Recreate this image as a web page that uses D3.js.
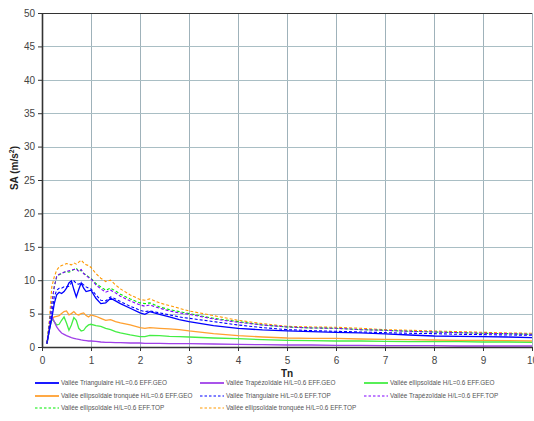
<!DOCTYPE html>
<html><head><meta charset="utf-8">
<script src="https://cdn.jsdelivr.net/npm/d3@7"></script>
<style>
body{margin:0;background:#fff;}
svg{display:block;font-family:"Liberation Sans",Arial,sans-serif;}
</style></head>
<body><svg id="c" width="534" height="421"></svg>
<script>
const periods = [0.1,0.15,0.2,0.25,0.3,0.35,0.4,0.45,0.5,0.55,0.6,0.65,0.7,0.75,0.8,0.85,0.9,0.95,1.0,1.1,1.2,1.3,1.4,1.5,1.6,1.8,2.0,2.1,2.2,2.4,2.6,2.8,3.0,3.5,4.0,4.5,5.0,5.5,6.0,6.5,7.0,7.5,8.0,8.5,9.0,9.5,10];
const triGeo  = [0.5,2.5,4.3,6.5,7.8,8.2,8.0,8.3,8.8,9.6,9.9,8.6,7.5,8.6,9.6,8.8,8.3,8.4,8.5,7.3,6.5,6.6,7.3,6.9,6.5,5.8,5.1,4.9,5.3,4.9,4.5,4.1,3.8,3.2,2.8,2.55,2.4,2.3,2.2,2.1,1.95,1.8,1.65,1.6,1.55,1.5,1.4];
const trapGeo = [0.5,2.6,4.6,3.8,3.0,2.5,2.1,1.9,1.7,1.55,1.4,1.3,1.2,1.15,1.05,1.0,0.95,0.9,0.9,0.85,0.75,0.7,0.7,0.65,0.65,0.6,0.6,0.55,0.55,0.55,0.5,0.5,0.5,0.45,0.4,0.35,0.3,0.3,0.25,0.25,0.2,0.2,0.2,0.15,0.15,0.15,0.15];
const ellGeo  = [0.5,2.6,4.2,3.8,3.3,3.4,4.0,4.5,3.6,2.5,3.3,4.4,4.0,2.8,2.4,2.5,3.0,3.3,3.4,3.2,3.1,2.8,2.6,2.3,2.1,1.8,1.55,1.55,1.75,1.7,1.6,1.55,1.5,1.35,1.25,1.1,1.0,0.95,0.9,0.9,0.85,0.8,0.8,0.8,0.75,0.75,0.7];
const ellTrGeo= [0.5,3.0,4.2,4.5,4.6,4.7,5.0,5.3,5.4,4.8,5.0,5.3,4.9,4.8,5.0,5.1,4.7,4.5,4.8,4.6,4.3,4.0,4.1,3.8,3.6,3.3,2.9,2.8,2.9,2.8,2.7,2.6,2.4,2.0,1.7,1.5,1.35,1.3,1.3,1.2,1.15,1.1,1.05,1.0,1.0,0.95,0.9];
const triTop  = [0.5,2.8,5.0,7.5,8.5,8.8,8.8,9.0,9.0,9.1,9.6,9.9,9.5,9.4,9.6,9.3,9.0,8.8,8.7,7.8,7.0,6.9,7.5,7.2,6.8,6.1,5.5,5.3,5.4,5.1,4.8,4.5,4.3,3.8,3.3,2.9,2.6,2.45,2.35,2.25,2.15,2.05,2.0,1.9,1.85,1.8,1.75];
const trapTop = [0.5,3.5,6.5,9.0,10.6,10.9,11.0,11.2,11.3,11.4,11.5,11.6,11.7,11.3,11.6,11.0,10.7,10.4,10.2,9.3,8.7,8.2,8.5,8.1,7.6,6.9,6.3,6.1,6.3,5.8,5.4,5.1,4.9,4.2,3.7,3.3,3.0,2.85,2.8,2.6,2.5,2.35,2.25,2.15,2.05,2.0,1.9];
const ellTop  = [0.5,3.5,6.5,9.0,10.5,10.8,11.0,11.2,11.3,11.2,11.4,11.6,11.8,11.3,11.5,11.0,10.8,10.5,10.3,9.5,9.0,8.5,8.8,8.4,7.9,7.2,6.6,6.5,6.6,6.0,5.6,5.3,5.0,4.3,3.8,3.3,3.0,2.85,2.8,2.6,2.5,2.35,2.25,2.15,2.05,2.0,1.9];
const ellTrTop= [0.5,4.0,9.0,10.5,11.5,12.0,12.2,12.3,12.5,12.4,12.3,12.6,12.4,12.7,13.0,12.6,12.3,12.2,11.9,11.0,10.3,9.8,10.0,9.3,8.7,7.8,7.1,7.0,7.2,6.6,6.2,5.8,5.4,4.7,4.0,3.5,3.1,3.0,2.95,2.8,2.6,2.5,2.4,2.3,2.2,2.1,2.05];

const seriesNames = [
  "Vallée Triangulaire H/L=0.6 EFF.GEO",
  "Vallée Trapézoïdale H/L=0.6 EFF.GEO",
  "Vallée ellipsoïdale H/L=0.6 EFF.GEO",
  "Vallée ellipsoïdale tronquée H/L=0.6 EFF.GEO",
  "Vallée Triangulaire H/L=0.6 EFF.TOP",
  "Vallée Trapézoïdale H/L=0.6 EFF.TOP",
  "Vallée ellipsoïdale H/L=0.6 EFF.TOP",
  "Vallée ellipsoïdale tronquée H/L=0.6 EFF.TOP"
];
const xTicks = [0,1,2,3,4,5,6,7,8,9,10];
const yTicks = [0,5,10,15,20,25,30,35,40,45,50];

const seriesValues = [triGeo, trapGeo, ellGeo, ellTrGeo, triTop, trapTop, ellTop, ellTrTop];
const colors = ["#0000ff","#a040e8","#44ee44","#ffa030","#0000ff","#8000ff","#00ee00","#ff9900"];
const dashed = [false,false,false,false,true,true,true,true];

const svg = d3.select("#c");
const m = {l:42, t:13, r:2, b:74};
const W = 534 - m.l - m.r, H = 421 - m.t - m.b;
const x = d3.scaleLinear().domain([0,10]).range([m.l, m.l+W]);
const y = d3.scaleLinear().domain([0,50]).range([m.t+H, m.t]);

// grid
const grid = svg.append("g");
grid.selectAll("line.v").data(xTicks.slice(1)).join("line")
  .attr("x1",d=>Math.round(x(d))+0.5).attr("x2",d=>Math.round(x(d))+0.5)
  .attr("y1",m.t).attr("y2",m.t+H).attr("stroke","#9fb2ba").attr("stroke-width",1);
grid.selectAll("line.h").data(yTicks.slice(1,-1)).join("line")
  .attr("x1",m.l).attr("x2",m.l+W)
  .attr("y1",d=>Math.round(y(d))+0.5).attr("y2",d=>Math.round(y(d))+0.5)
  .attr("stroke","#a9bec4").attr("stroke-width",1);

// series
const line = d3.line().x((d,i)=>x(periods[i])).y(d=>y(d));
const order = [3,2,1,0,7,6,5,4];
order.forEach(k=>{
  svg.append("path").datum(seriesValues[k]).attr("d",line)
    .attr("fill","none").attr("stroke",colors[k])
    .attr("stroke-width",dashed[k]?1.1:1.3)
    .attr("stroke-dasharray",dashed[k]?"3,2":null);
});

// top border
svg.append("line").attr("x1",m.l).attr("x2",m.l+W).attr("y1",m.t+0.5).attr("y2",m.t+0.5)
  .attr("stroke","#333").attr("stroke-width",1);

// axes
const xAxis = svg.append("g").attr("transform",`translate(0,${m.t+H})`)
  .call(d3.axisBottom(x).tickValues(xTicks).tickSize(4).tickSizeOuter(0).tickFormat(d3.format("d")));
const yAxis = svg.append("g").attr("transform",`translate(${m.l},0)`)
  .call(d3.axisLeft(y).tickValues(yTicks).tickSize(4).tickSizeOuter(0).tickFormat(d3.format("d")));
[xAxis,yAxis].forEach(a=>{
  a.select(".domain").attr("stroke","#333").attr("stroke-width",1.6);
  a.selectAll(".tick line").attr("stroke","#333");
  a.selectAll("text").attr("fill","#444").attr("font-size",10).attr("font-family","Liberation Sans, Arial, sans-serif");
});
xAxis.selectAll("text").attr("dy","0.95em");

// axis titles
svg.append("text").attr("x",x(5)).attr("y",377).attr("text-anchor","middle")
  .attr("font-size",10).attr("font-weight","bold").attr("fill","#222").text("Tn");
const yl = svg.append("text").attr("transform",`translate(18,168) rotate(-90)`)
  .attr("text-anchor","middle").attr("font-size",10).attr("font-weight","bold").attr("fill","#222");
yl.append("tspan").text("SA (m/s");
yl.append("tspan").attr("font-size",7).attr("dy",-4).text("2");
yl.append("tspan").attr("dy",4).text(")");

// legend
const colX = [35,200,364];
const rowY = [383,396,408];
const leg = svg.append("g");
seriesNames.forEach((nm,i)=>{
  const cx = colX[i%3], cy = rowY[Math.floor(i/3)];
  leg.append("line").attr("x1",cx).attr("x2",cx+24).attr("y1",cy).attr("y2",cy)
    .attr("stroke",colors[i]).attr("stroke-width",dashed[i]?1.2:1.8)
    .attr("stroke-dasharray",dashed[i]?"2.5,2":null);
  leg.append("text").attr("x",cx+26).attr("y",cy+2.3).attr("font-size",6.4).attr("fill","#555")
    .text(nm);
});
</script></body></html>
